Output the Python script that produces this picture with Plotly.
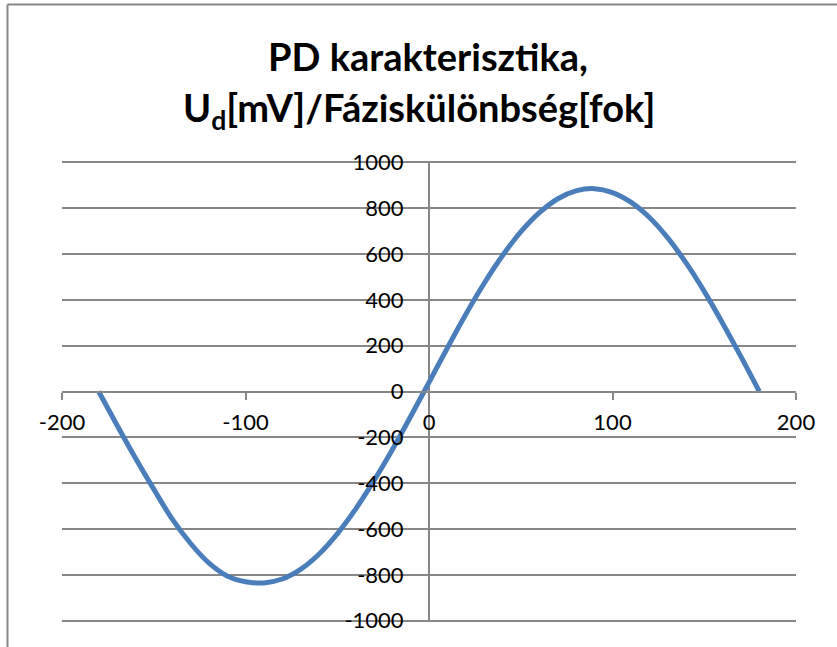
import plotly.graph_objects as go

# Phase difference [deg] and detector output Ud [mV]
phase_deg = [-180, -170, -160, -150, -140, -130, -120, -110, -100, -90,
             -80, -70, -60, -50, -40, -30, -20, -10, 0,
             10, 20, 30, 40, 50, 60, 70, 80, 90,
             100, 110, 120, 130, 140, 150, 160, 170, 180]
ud_mv = [0, -147, -290, -426, -556, -662, -748, -805, -830, -835,
         -818, -776, -710, -621, -513, -389, -254, -109, 40,
         190, 336, 471, 592, 696, 779, 840, 875, 885,
         868, 826, 760, 671, 562, 437, 298, 152, 0]

x_ticks = [-200, -100, 0, 100, 200]
y_ticks = [-1000, -800, -600, -400, -200, 0, 200, 400, 600, 800, 1000]

title_line1 = "PD karakterisztika,"
title_line2 = "U<sub>d</sub>[mV]/Fáziskülönbség[fok]"

W, H = 837, 647
ML, MR, MT, MB = 62, 41, 160, 24
PW, PH = W - ML - MR, H - MT - MB
grey = "#878787"

def px_x(p):
    return (p - ML) / PW

def px_y(p):
    return (H - MB - p) / PH

fig = go.Figure()
fig.add_trace(go.Scatter(
    x=phase_deg, y=ud_mv, mode="lines",
    line=dict(color="#4a7ebb", width=5, shape="spline", smoothing=1.0),
    showlegend=False, hoverinfo="x+y",
))

fig.update_layout(
    width=W, height=H,
    margin=dict(l=ML, r=MR, t=MT, b=MB, pad=0),
    paper_bgcolor="white", plot_bgcolor="white",
    font=dict(family="Lato, Carlito, sans-serif", color="black", size=22),
    xaxis=dict(
        range=[-200, 200], tickvals=x_ticks, ticktext=[str(v) for v in x_ticks],
        showgrid=False, zeroline=False,
        showline=True, linecolor=grey, linewidth=2,
        ticks="outside", ticklen=7, tickwidth=2, tickcolor=grey,
        anchor="free", position=0.5, ticklabelstandoff=4,
        tickfont=dict(size=22),
    ),
    yaxis=dict(
        range=[-1010, 1010], tickvals=y_ticks, ticktext=[str(v) for v in y_ticks],
        showgrid=True, gridcolor=grey, gridwidth=2, zeroline=False,
        showline=False,
        ticks="outside", ticklen=7, tickwidth=2, tickcolor=grey,
        anchor="free", position=0.5, ticklabelstandoff=14,
        tickfont=dict(size=22),
    ),
    annotations=[
        dict(text="<b>" + title_line1 + "</b>", xref="paper", yref="paper",
             x=px_x(428), y=px_y(56), xanchor="center", yanchor="middle",
             showarrow=False, font=dict(size=38, family="Lato, sans-serif")),
        dict(text="<b>" + title_line2 + "</b>", xref="paper", yref="paper",
             x=px_x(419), y=px_y(110), xanchor="center", yanchor="middle",
             showarrow=False, font=dict(size=38, family="Lato, sans-serif")),
    ],
    shapes=[
        dict(type="line", xref="paper", yref="paper",
             x0=px_x(7.5), x1=px_x(900), y0=px_y(4.5), y1=px_y(4.5),
             line=dict(color=grey, width=2)),
        dict(type="line", xref="paper", yref="paper",
             x0=px_x(7.5), x1=px_x(7.5), y0=px_y(4.5), y1=px_y(700),
             line=dict(color=grey, width=2)),
        # vertical value axis line at x = 0, spanning -1000..1000
        dict(type="line", xref="x", yref="y", x0=0, x1=0, y0=-1000, y1=1000,
             line=dict(color=grey, width=2), layer="below"),
    ],
)

fig.write_html("out.html", config={"displayModeBar": False},
               post_script="document.body.style.margin='0px';")
